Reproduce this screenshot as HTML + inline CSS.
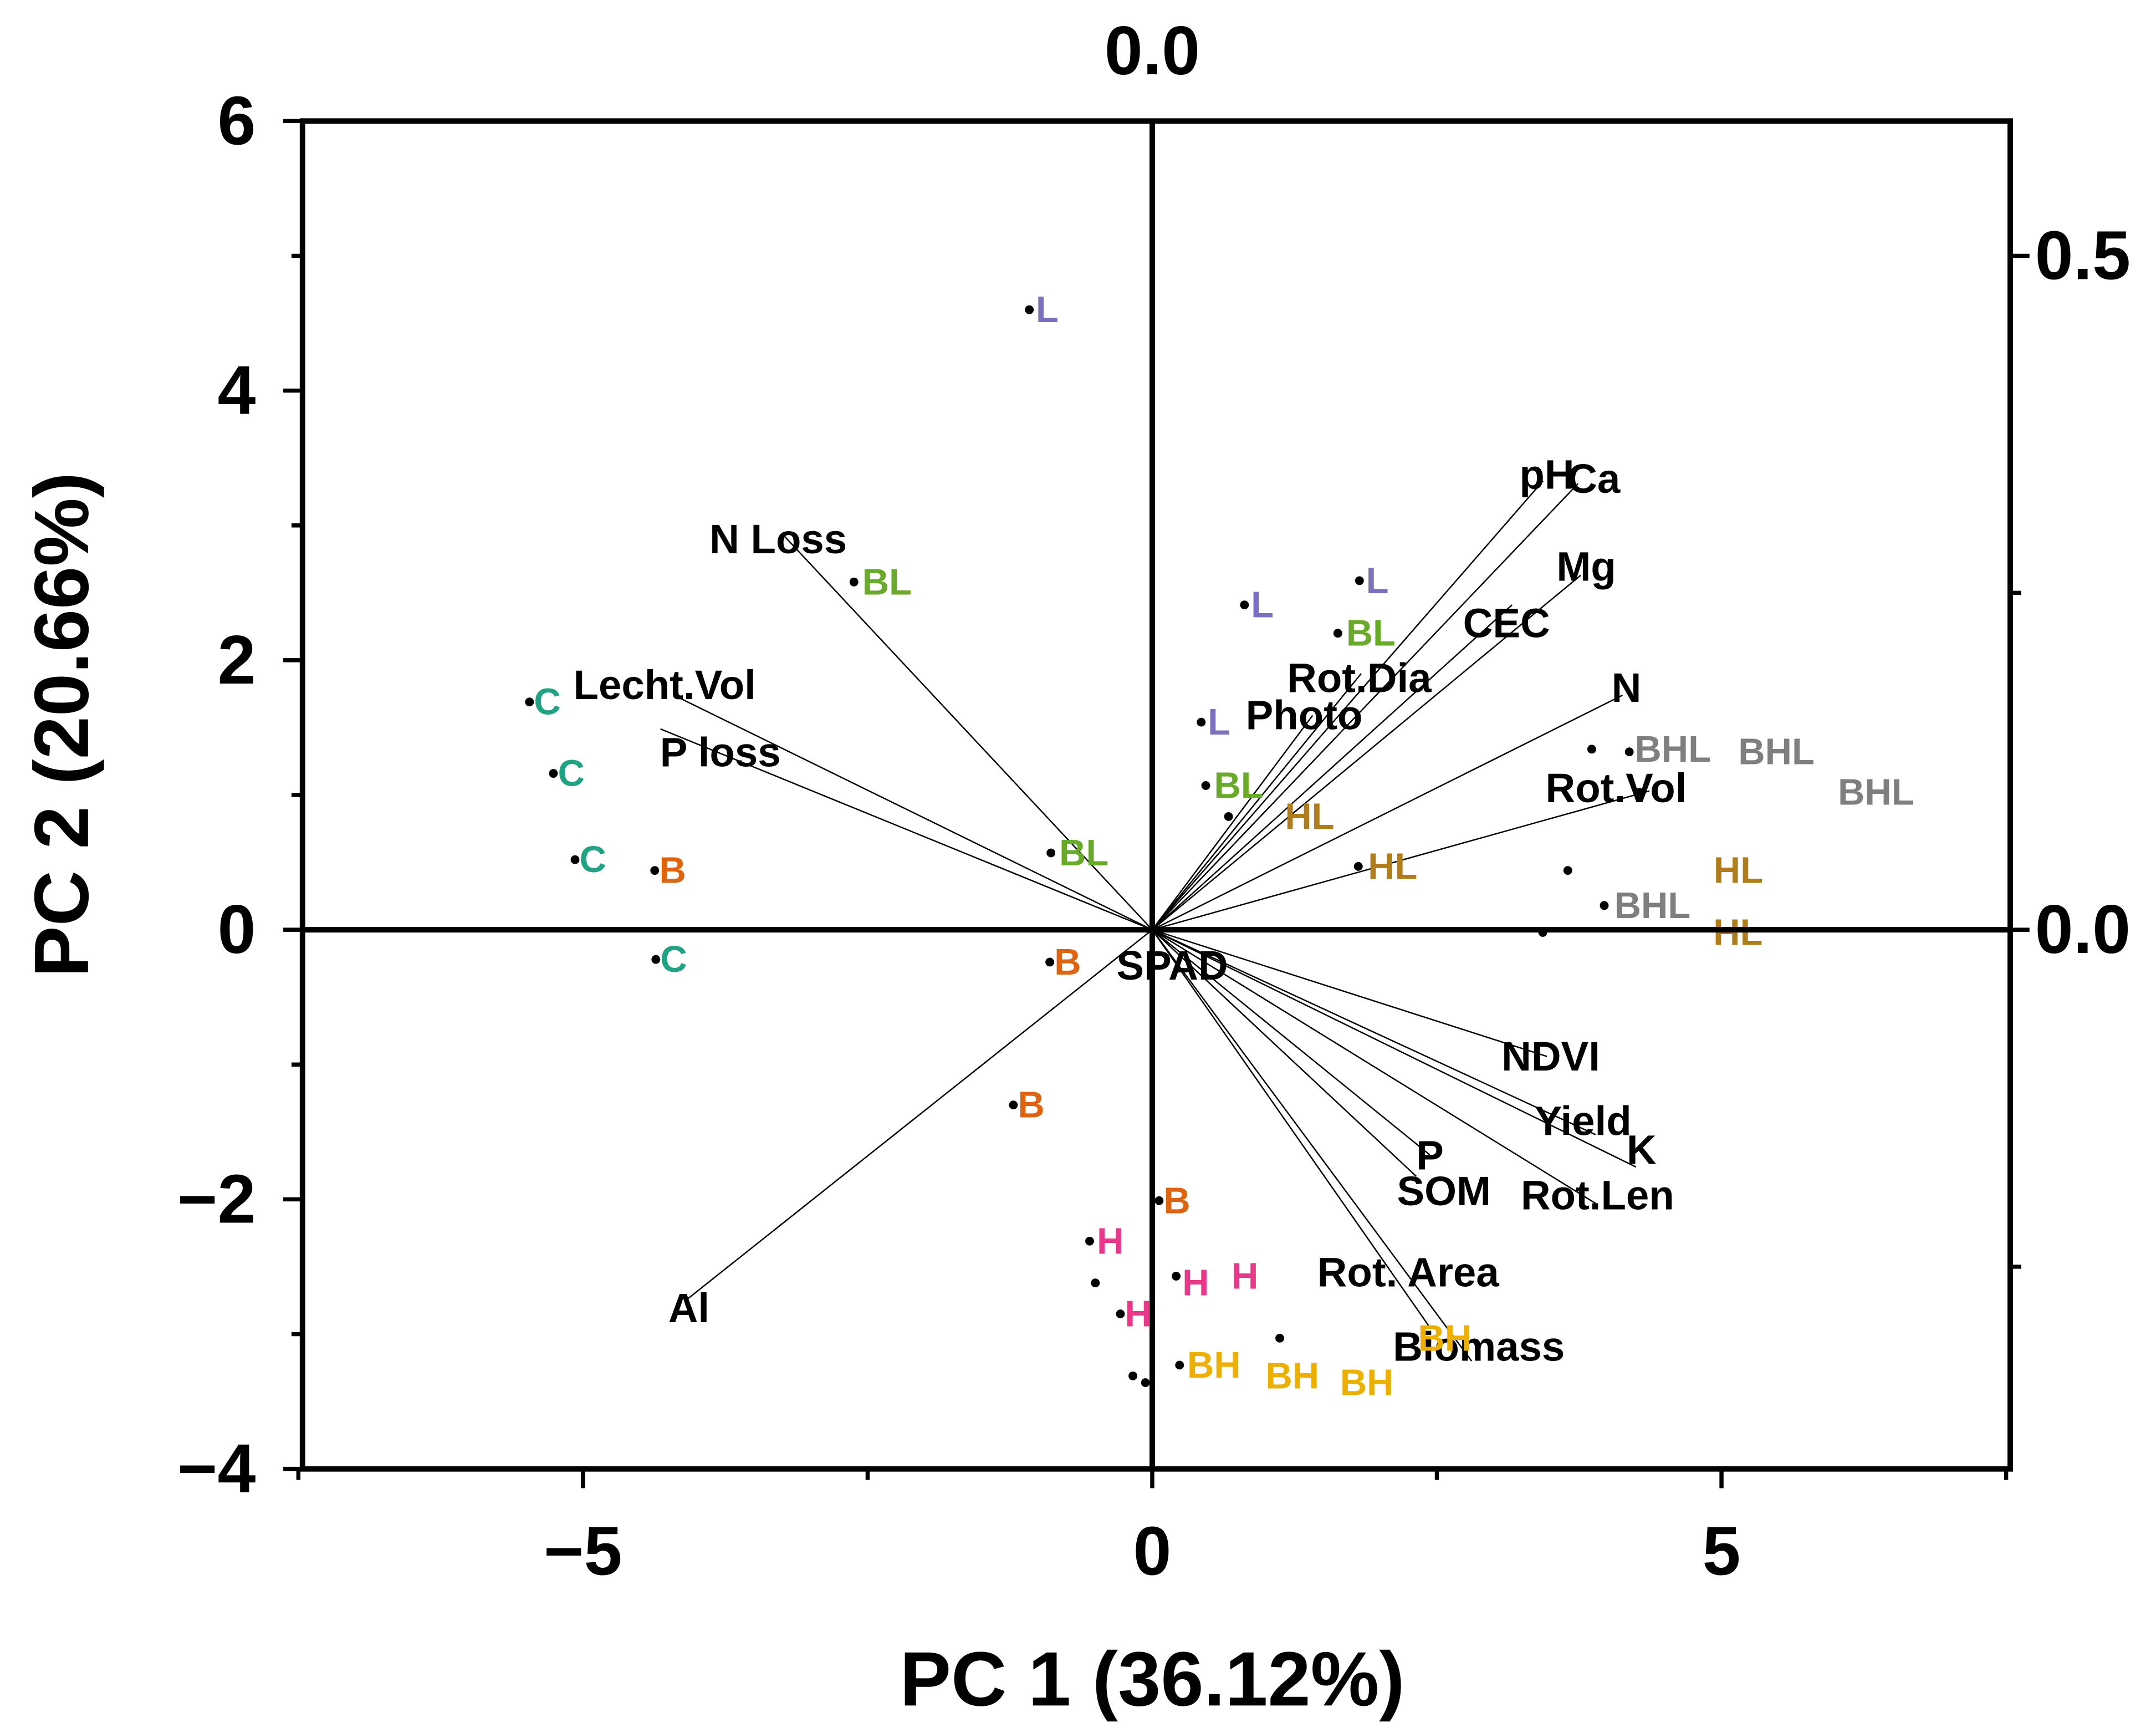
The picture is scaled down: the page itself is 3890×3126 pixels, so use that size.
<!DOCTYPE html>
<html><head><meta charset="utf-8"><style>
html,body{margin:0;padding:0;background:#fff}
svg{display:block}
text{font-family:"Liberation Sans",Arial,sans-serif;font-weight:bold}
</style></head><body>
<svg id="chart" xmlns="http://www.w3.org/2000/svg" width="3890" height="3126" viewBox="0 0 1568 1260" preserveAspectRatio="none">
<g id="vectors"></g>
<g id="points"></g>
<g id="axes"></g>
</svg>
<script>
// ---- data ----
const scoreGroups = ["L","L","L","L","BL","BL","BL","BL","C","C","C","C","B","B","B","B","H","H","H","H","BH","BH","BH","BH","HL","HL","HL","HL","BHL","BHL","BHL","BHL"];
const scorePC1 = [-1.08,0.81,1.82,0.43,-2.62,1.63,0.47,-0.89,-5.47,-5.26,-5.07,-4.36,-4.37,-0.90,-1.22,0.06,-0.55,0.21,-0.50,-0.28,-0.17,-0.06,0.24,1.12,0.67,1.81,3.65,3.43,3.86,4.19,3.97,4.28];
const scorePC2 = [4.60,2.41,2.59,1.54,2.58,2.20,1.07,0.57,1.69,1.16,0.52,-0.22,0.44,-0.24,-1.30,-2.01,-2.31,-2.57,-2.62,-2.85,-3.31,-3.36,-3.23,-3.03,0.84,0.47,0.44,-0.02,1.34,1.32,0.18,1.02];
const varNames = ["pH","Ca","Mg","CEC","Rot.Dia","Photo","N","Rot.Vol","NDVI","Yield","K","P","SOM","Rot.Len","Rot. Area","Biomass","N Loss","Lecht.Vol","P loss","Al","SPAD"];
const loadPC1 = [0.290,0.316,0.318,0.267,0.155,0.119,0.349,0.369,0.293,0.329,0.359,0.206,0.196,0.329,0.206,0.237,-0.273,-0.355,-0.365,-0.345,0.017];
const loadPC2 = [0.333,0.331,0.263,0.241,0.190,0.159,0.174,0.103,-0.094,-0.152,-0.176,-0.167,-0.183,-0.203,-0.295,-0.320,0.292,0.174,0.149,-0.274,-0.024];
const xTicks = [-5,0,5];
const yTicks = [6,4,2,0,-2,-4];
const rightTicks = [0.5,0.0];
const topTicks = [0.0];

// ---- layout (styling, not data) ----
const L=220,R=1462,T=88,B=1068;
const x=v=>838+v*82.8;
const y=v=>676-v*98;
const lx=v=>838+v*980;
const ly=v=>676-v*980;
const colors={L:"#7c6fc0",BL:"#6aaa2a",C:"#1fa383",B:"#e0630f",H:"#e8388a",BH:"#eeb000",HL:"#b07d1a",BHL:"#7f7f7f"};
const labelDx=[13,13,13,13,24,24,24,24,13,13,13,13,13,13,13,13,15,50,73,13,116,161,25,120,59,25,124,142,59,107,35,172];
const varLabelPos=[[1105,345],[1140,348],[1132,412],[1064,453],[936,493],[906,520],[1172,500],[1124,573],[1092,768],[1116,815],[1183,836],[1030,840],[1016,866],[1106,869],[958,925],[1013,979],[516,392],[417,498],[480,547],[486,951],[812,702]];
const NS="http://www.w3.org/2000/svg";
function mk(tag,attrs,parent,txt){const e=document.createElementNS(NS,tag);for(const k in attrs)e.setAttribute(k,attrs[k]);if(txt!==undefined)e.textContent=txt;parent.appendChild(e);return e;}
const gV=document.getElementById('vectors'),gP=document.getElementById('points'),gA=document.getElementById('axes');

varNames.forEach((n,i)=>{
  const ln=mk('line',{x1:838,y1:676,x2:lx(loadPC1[i]),y2:ly(loadPC2[i]),stroke:'#000','stroke-width':1},gV);
  
  
  const t=mk('text',{x:varLabelPos[i][0],y:varLabelPos[i][1],'font-size':30,fill:'#000','dominant-baseline':'central'},gV,n);
  
  
});

scoreGroups.forEach((g,i)=>{
  const cx=x(scorePC1[i]),cy=y(scorePC2[i]);
  const d=mk('circle',{cx:cx,cy:cy,r:3.2,fill:'#000'},gP);
  
  
  const t=mk('text',{x:cx+labelDx[i],y:cy,'font-size':27,fill:colors[g],'text-anchor':'middle','dominant-baseline':'central'},gP,g);
  
  
});

const fr=mk('rect',{x:L,y:T,width:R-L,height:B-T,fill:'none',stroke:'#000','stroke-width':4},gA);


const zx=mk('line',{x1:L,y1:676,x2:R,y2:676,stroke:'#000','stroke-width':4},gA);


const zy=mk('line',{x1:838,y1:T,x2:838,y2:B,stroke:'#000','stroke-width':4},gA);



[-7.5,-2.5,2.5,7.5].forEach(v=>{const t=mk('line',{x1:x(v),y1:B,x2:x(v),y2:B+8,stroke:'#000','stroke-width':3},gA);});
xTicks.forEach(v=>{
  const t=mk('line',{x1:x(v),y1:B,x2:x(v),y2:B+14,stroke:'#000','stroke-width':3},gA);
  
  const l=mk('text',{x:x(v),y:1145,'font-size':50,'text-anchor':'middle'},gA,v<0?'\u2212'+Math.abs(v):String(v));
  
});
[5,3,1,-1,-3].forEach(v=>{const t=mk('line',{x1:L-8,y1:y(v),x2:L,y2:y(v),stroke:'#000','stroke-width':3},gA);});
yTicks.forEach(v=>{
  const t=mk('line',{x1:L-14,y1:y(v),x2:L,y2:y(v),stroke:'#000','stroke-width':3},gA);
  
  const l=mk('text',{x:186,y:y(v),'font-size':50,'text-anchor':'end','dominant-baseline':'central'},gA,v<0?'\u2212'+Math.abs(v):String(v));
  
});
[0.25,-0.25].forEach(v=>{const t=mk('line',{x1:R,y1:ly(v),x2:R+8,y2:ly(v),stroke:'#000','stroke-width':3},gA);});
rightTicks.forEach(v=>{
  const t=mk('line',{x1:R,y1:ly(v),x2:R+14,y2:ly(v),stroke:'#000','stroke-width':3},gA);
  
  const l=mk('text',{x:1480,y:ly(v),'font-size':50,'dominant-baseline':'central'},gA,v.toFixed(1));
  
});
topTicks.forEach(v=>{
  const l=mk('text',{x:lx(v),y:54,'font-size':50,'text-anchor':'middle'},gA,v.toFixed(1));
  
});
const xt=mk('text',{x:838,y:1240,'font-size':56,'text-anchor':'middle'},gA,'PC 1 (36.12%)');

const yt=mk('text',{x:0,y:0,'font-size':56,'text-anchor':'middle',transform:'translate(64,527) rotate(-90)'},gA,'PC 2 (20.66%)');

</script>
</body></html>
